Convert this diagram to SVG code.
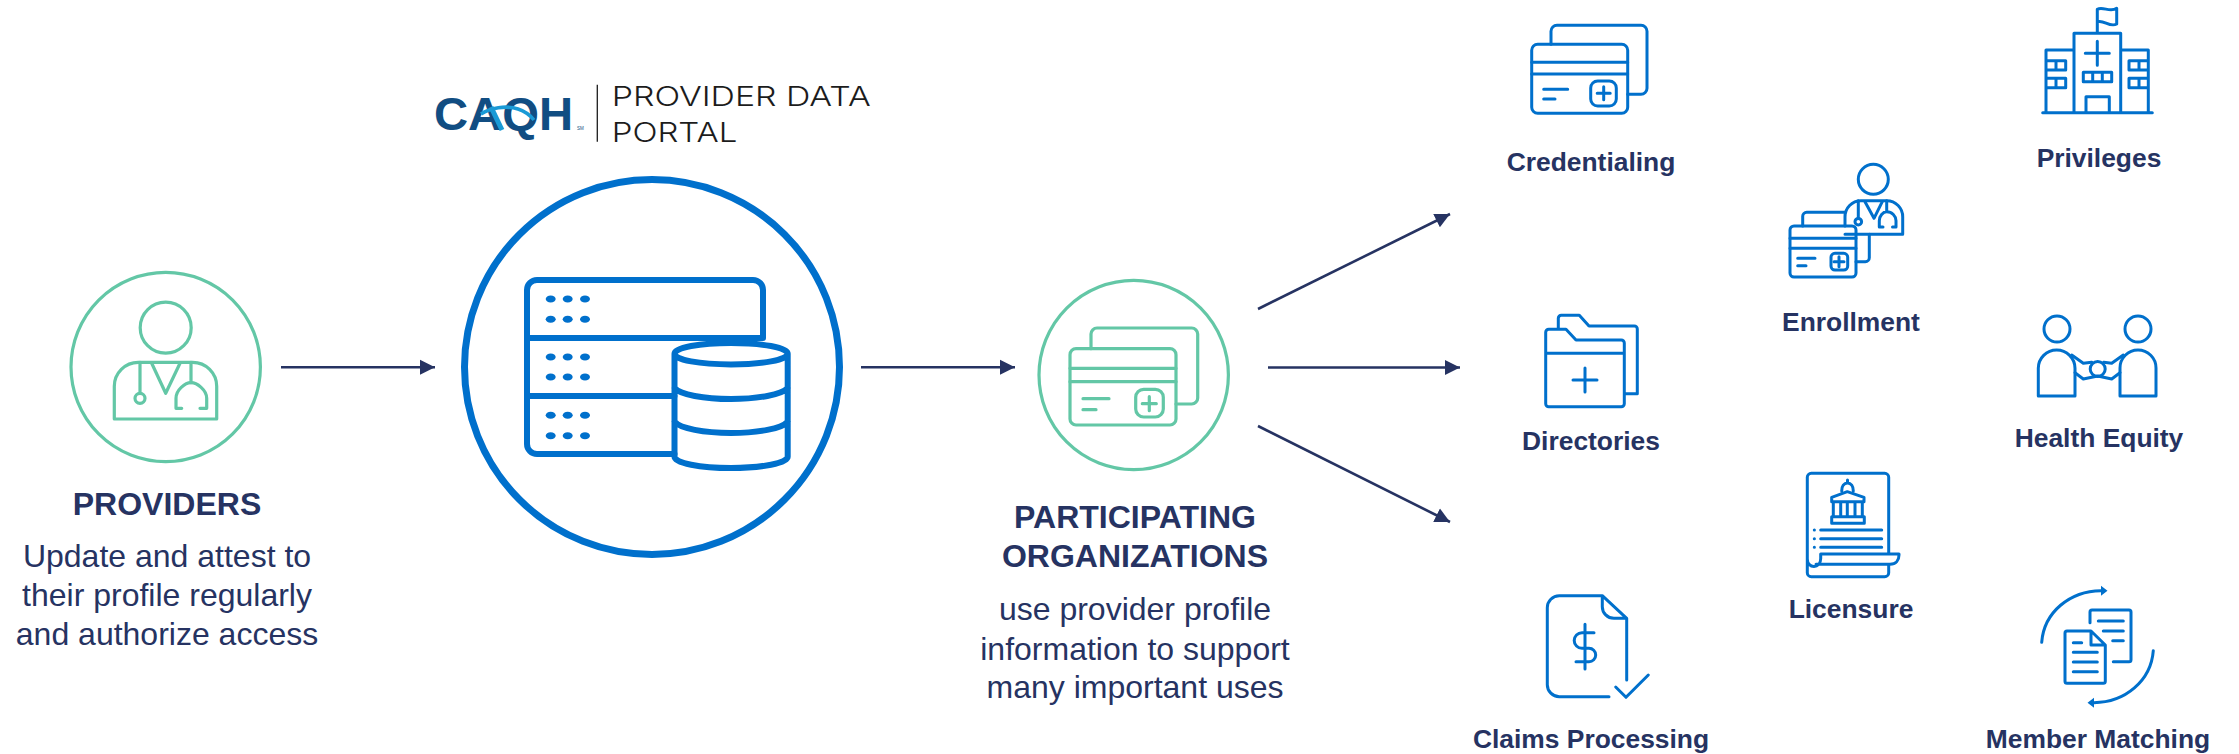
<svg xmlns="http://www.w3.org/2000/svg" width="2239" height="754" viewBox="0 0 2239 754">
<defs>
<style>
.g{fill:none;stroke:#63c7a6;stroke-linecap:round;stroke-linejoin:round;stroke-width:3.2}
.b{fill:none;stroke:#0070cc;stroke-linecap:round;stroke-linejoin:round;stroke-width:3}
.s{fill:none;stroke:#0070cc;stroke-linecap:round;stroke-linejoin:round;stroke-width:6}
.d{fill:#0070cc;stroke:none}
.t{font-family:"Liberation Sans",Arial,sans-serif;fill:#263362;text-anchor:middle}
.h{font-size:32px;font-weight:700}
.p{font-size:32px}
.l{font-size:26.4px;font-weight:700}
.c{fill:none;stroke:#263362;stroke-width:2.6}
.logo{font-family:"Inter","Noto Sans",sans-serif;font-weight:300;fill:#1c1c1c;font-size:27.5px}
</style>
<marker id="ah" markerUnits="userSpaceOnUse" markerWidth="16" markerHeight="16" viewBox="0 0 16 16" refX="15" refY="8" orient="auto">
<path d="M0 0.5L15 8L0 15.5Z" fill="#263362"/>
</marker>
</defs>
<rect width="2239" height="754" fill="#fff"/>

<g id="connectors">
<path class="c" d="M281 367.3H435" marker-end="url(#ah)"/>
<path class="c" d="M861 367.3H1015" marker-end="url(#ah)"/>
<path class="c" d="M1268 367.5H1460" marker-end="url(#ah)"/>
<path class="c" d="M1258 309L1450 214" marker-end="url(#ah)"/>
<path class="c" d="M1258 426L1450 522" marker-end="url(#ah)"/>
</g>

<g id="providers">
<circle class="g" cx="165.7" cy="367" r="94.7"/>
<circle class="g" cx="165.7" cy="327.7" r="25.5"/>
<path class="g" d="M114.3 419V386.3A24 24 0 0 1 138.3 362.3H192.7A24 24 0 0 1 216.7 386.3V419Z"/>
<path class="g" d="M151.7 363.3L165.7 393.3L180 363.3M140 362.3V393.3M191 362.3V382.7"/>
<circle class="g" cx="140" cy="398.3" r="5"/>
<path class="g" d="M181.7 408.3H176V398.3C176 390 185 382.7 191 382.7C197 382.7 206.7 390 206.7 398.3V408.3H200"/>
<text class="t h" x="167" y="515">PROVIDERS</text>
<text class="t p" x="167" y="567">Update and attest to</text>
<text class="t p" x="167" y="606">their profile regularly</text>
<text class="t p" x="167" y="645">and authorize access</text>
</g>

<g id="logo">
<text x="434" y="130" font-family="'Liberation Sans',Arial,sans-serif" font-weight="700" font-size="47" fill="#114d82" textLength="139" lengthAdjust="spacingAndGlyphs">CAQH</text>
<path d="M491 107L502 130" fill="none" stroke="#1a9ad6" stroke-width="5"/>
<path d="M481 114C490 108 506 105 518 109C524 111 530 115 534 120" fill="none" stroke="#1a9ad6" stroke-width="3.6"/>
<text x="577" y="130" font-family="'Liberation Sans',Arial,sans-serif" font-size="4.5" fill="#114d82">SM</text>
<path d="M597.3 84.7V141.7" stroke="#1c1c1c" stroke-width="1.3" fill="none"/>
<text class="logo" x="611.7" y="105.7" textLength="259" lengthAdjust="spacingAndGlyphs">PROVIDER DATA</text>
<text class="logo" x="611.7" y="142.3" textLength="125.6" lengthAdjust="spacingAndGlyphs">PORTAL</text>
</g>

<g id="portal">
<circle cx="652" cy="367" r="187.5" fill="none" stroke="#0070cc" stroke-width="7"/>
<path class="s" d="M674.5 454H537A10 10 0 0 1 527 444V290A10 10 0 0 1 537 280H753A10 10 0 0 1 763 290V338M527 338H763M527 396H674.5"/>
<path class="s" d="M674.5 353.7C674.5 347.5 700 343 731 343C762 343 787.7 347.5 787.7 353.7C787.7 360 762 364.4 731 364.4C700 364.4 674.5 360 674.5 353.7ZM674.5 353.7V456.7C674.5 463 700 468 731 468C762 468 787.7 463 787.7 456.7V353.7M674.5 388C680 394.5 704 399 731 399C758 399 782 394.5 787.7 388M674.5 421.7C680 428.5 704 433 731 433C758 433 782 428.5 787.7 421.7"/>
<g class="d">
<ellipse cx="550.7" cy="299" rx="5" ry="3.5"/><ellipse cx="567.7" cy="299" rx="5" ry="3.5"/><ellipse cx="585" cy="299" rx="5" ry="3.5"/>
<ellipse cx="550.7" cy="319.3" rx="5" ry="3.5"/><ellipse cx="567.7" cy="319.3" rx="5" ry="3.5"/><ellipse cx="585" cy="319.3" rx="5" ry="3.5"/>
<ellipse cx="550.7" cy="357" rx="5" ry="3.5"/><ellipse cx="567.7" cy="357" rx="5" ry="3.5"/><ellipse cx="585" cy="357" rx="5" ry="3.5"/>
<ellipse cx="550.7" cy="377" rx="5" ry="3.5"/><ellipse cx="567.7" cy="377" rx="5" ry="3.5"/><ellipse cx="585" cy="377" rx="5" ry="3.5"/>
<ellipse cx="550.7" cy="415.3" rx="5" ry="3.5"/><ellipse cx="567.7" cy="415.3" rx="5" ry="3.5"/><ellipse cx="585" cy="415.3" rx="5" ry="3.5"/>
<ellipse cx="550.7" cy="435.7" rx="5" ry="3.5"/><ellipse cx="567.7" cy="435.7" rx="5" ry="3.5"/><ellipse cx="585" cy="435.7" rx="5" ry="3.5"/>
</g>
</g>

<g id="organizations">
<circle class="g" cx="1133.7" cy="375" r="94.7"/>
<rect class="g" x="1070" y="348.7" width="106" height="76.3" rx="6"/>
<path class="g" d="M1070 368.3H1176M1070 381.7H1176M1091 348.7V334A6 6 0 0 1 1097 328H1191.7A6 6 0 0 1 1197.7 334V398A6 6 0 0 1 1191.7 404H1176M1083 398.7H1109M1083 409.7H1096M1149.3 396.7V410.7M1142.3 403.7H1156.3"/>
<rect class="g" x="1135.7" y="389.3" width="27.6" height="27.7" rx="8"/>
<text class="t h" x="1135" y="528">PARTICIPATING</text>
<text class="t h" x="1135" y="567">ORGANIZATIONS</text>
<text class="t p" x="1135" y="620">use provider profile</text>
<text class="t p" x="1135" y="660">information to support</text>
<text class="t p" x="1135" y="698">many important uses</text>
</g>

<g id="credentialing">
<rect class="b" x="1531.7" y="44.3" width="96" height="69" rx="6"/>
<path class="b" d="M1531.7 62.3H1627.7M1531.7 74H1627.7M1551 44.3V31.3A6 6 0 0 1 1557 25.3H1641A6 6 0 0 1 1647 31.3V88.3A6 6 0 0 1 1641 94.3H1627.7M1543.7 89.3H1567.7M1543.7 99H1555M1603.7 86.8V99.8M1597.2 93.3H1610.2"/>
<rect class="b" x="1590.7" y="81" width="25.6" height="25" rx="7"/>
<text class="t l" x="1591" y="171">Credentialing</text>
</g>

<g id="directories">
<path class="b" d="M1545.7 353.3V332.3A3 3 0 0 1 1548.7 329.3H1566L1576 340H1621.3A3 3 0 0 1 1624.3 343V403.7A3 3 0 0 1 1621.3 406.7H1548.7A3 3 0 0 1 1545.7 403.7V353.3H1624.3M1558.3 329.3V318.3A3 3 0 0 1 1561.3 315.3H1579.3L1589 326H1634.3A3 3 0 0 1 1637.3 329V393.7H1624.3M1585 368V392M1573 380H1597"/>
<text class="t l" x="1591" y="450">Directories</text>
</g>

<g id="claims">
<path class="b" d="M1609 696.7H1559.3A12 12 0 0 1 1547.3 684.7V607.7A12 12 0 0 1 1559.3 595.7H1602.3L1626.7 618.3V680M1602.3 595.7V606.7A11.6 11.6 0 0 0 1613.9 618.3H1626.7M1615.7 687L1626 697.3L1648.3 675M1585 624.3V669M1594 632.7H1582A7.8 7.8 0 0 0 1582 648.3H1589A6.7 6.7 0 0 1 1589 661.7H1576"/>
<text class="t l" x="1591" y="748">Claims Processing</text>
</g>

<g id="enrollment">
<circle class="b" cx="1873.3" cy="179.3" r="15"/>
<path class="b" d="M1845 234.3H1902.7V217A16 16 0 0 0 1886.7 200.7H1861A16 16 0 0 0 1845 217V226"/>
<path class="b" d="M1865 201.7L1874 218.3L1882.3 201.7M1858.3 200.7V218M1886.7 200.7V211.7M1883 227H1879.3V220.7C1879.3 216 1883 211.7 1886.7 211.7C1892 211.7 1896 216 1896 220.7V227H1892.5"/>
<circle class="b" cx="1858.3" cy="221.7" r="3.3"/>
<rect class="b" x="1790" y="226" width="66" height="51" rx="4"/>
<path class="b" d="M1790 238.3H1856M1790 248.3H1856M1802.7 226V216.3A4 4 0 0 1 1806.7 212.3H1845M1869.3 234.3V257.7A4 4 0 0 1 1865.3 261.7H1856M1797.7 258.3H1815M1797.7 265.7H1806M1839 256.7V266.7M1834 261.7H1844"/>
<rect class="b" x="1831" y="253.3" width="16.7" height="16.7" rx="4"/>
<text class="t l" x="1851" y="331">Enrollment</text>
</g>

<g id="licensure">
<path class="b" d="M1888.7 553V477.3A4 4 0 0 0 1884.7 473.3H1811.3A4 4 0 0 0 1807.3 477.3V559M1807.3 559C1807.3 569 1820.7 569 1820.7 558.5V554H1899V555C1899 560 1896 564.3 1890 564.3H1816M1807.3 559V572.7A4 4 0 0 0 1811.3 576.7H1884.7A4 4 0 0 0 1888.7 572.7V564.3"/>
<path class="b" d="M1831.7 497.3L1847.3 491.7L1864 497.3V501.7H1831.7ZM1841.7 491C1841.7 486 1844 483 1847.5 483C1851 483 1853.3 486 1853.3 491M1847.5 483V480M1833.3 501.7V516.7M1840.7 501.7V516.7M1847.3 501.7V516.7M1855 501.7V516.7M1862.3 501.7V516.7M1831.7 516.7H1864.3V523.3H1831.7ZM1820.7 530H1881.7M1820.7 538.7H1881.7M1820.7 547.3H1881.7M1814.3 530H1814.4M1814.3 538.7H1814.4M1814.3 547.3H1814.4"/>
<text class="t l" x="1851" y="618">Licensure</text>
</g>

<g id="privileges">
<path class="b" d="M2042.7 112.7H2152.3M2074 112.7V33.3H2120.7V112.7M2074 50H2046V112.7M2120.7 50H2148.3V112.7M2097.3 33.3V9.3C2103 6 2110 13 2116.7 8.3V24C2110 28 2103 19 2097.3 22M2097.3 41.3V65.3M2085.3 53.3H2109.3M2083.3 72.3H2111.7V81.7H2083.3ZM2092.7 72.3V81.7M2102.3 72.3V81.7M2086 112.7V96.7H2109.3V112.7M2046 60.7H2065.7V70H2046M2056 60.7V70M2046 78.3H2065.7V87.7H2046M2056 78.3V87.7M2148.3 60.7H2129V70H2148.3M2139 60.7V70M2148.3 78.3H2129V87.7H2148.3M2139 78.3V87.7"/>
<text class="t l" x="2099" y="167">Privileges</text>
</g>

<g id="health-equity">
<circle class="b" cx="2057" cy="329" r="13"/>
<circle class="b" cx="2138" cy="329" r="13"/>
<path class="b" d="M2038.3 396V368.3A18.3 18.3 0 0 1 2075 368.3V396ZM2120 396V368A18 18 0 0 1 2156 368V396Z"/>
<circle class="b" cx="2097.7" cy="369" r="7.5"/>
<path class="b" d="M2071.7 355L2083.3 363.3L2091.7 362.3M2123.3 355L2111.7 363.3L2103.7 362.3M2075 372.7L2083.3 379L2097.7 376L2111.7 379L2120 372.7"/>
<text class="t l" x="2099" y="447">Health Equity</text>
</g>

<g id="member-matching">
<path class="b" d="M2041.7 642.3C2044 612 2070 591 2101 590.7M2153.3 650.7C2151 681 2125 702.5 2094 702.7"/>
<path class="d" d="M2107.5 590.7L2101 585.7V595.7ZM2087.5 702.7L2094 697.7V707.7Z"/>
<path class="b" d="M2090 622.7V612A2 2 0 0 1 2092 610H2129A2 2 0 0 1 2131 612V659.7A2 2 0 0 1 2129 661.7H2113.3M2098.3 621H2123.3M2103.3 631H2123.3M2112.7 640.7H2123.3"/>
<path class="b" d="M2091 631H2067A2 2 0 0 0 2065 633V681.3A2 2 0 0 0 2067 683.3H2103.3A2 2 0 0 0 2105.3 681.3V645L2091 631V645H2105.3M2073.3 642.7H2081.7M2073.3 652.3H2097.3M2073.3 662H2097.3M2073.3 671.7H2097.3"/>
<text class="t l" x="2098" y="748">Member Matching</text>
</g>
</svg>
